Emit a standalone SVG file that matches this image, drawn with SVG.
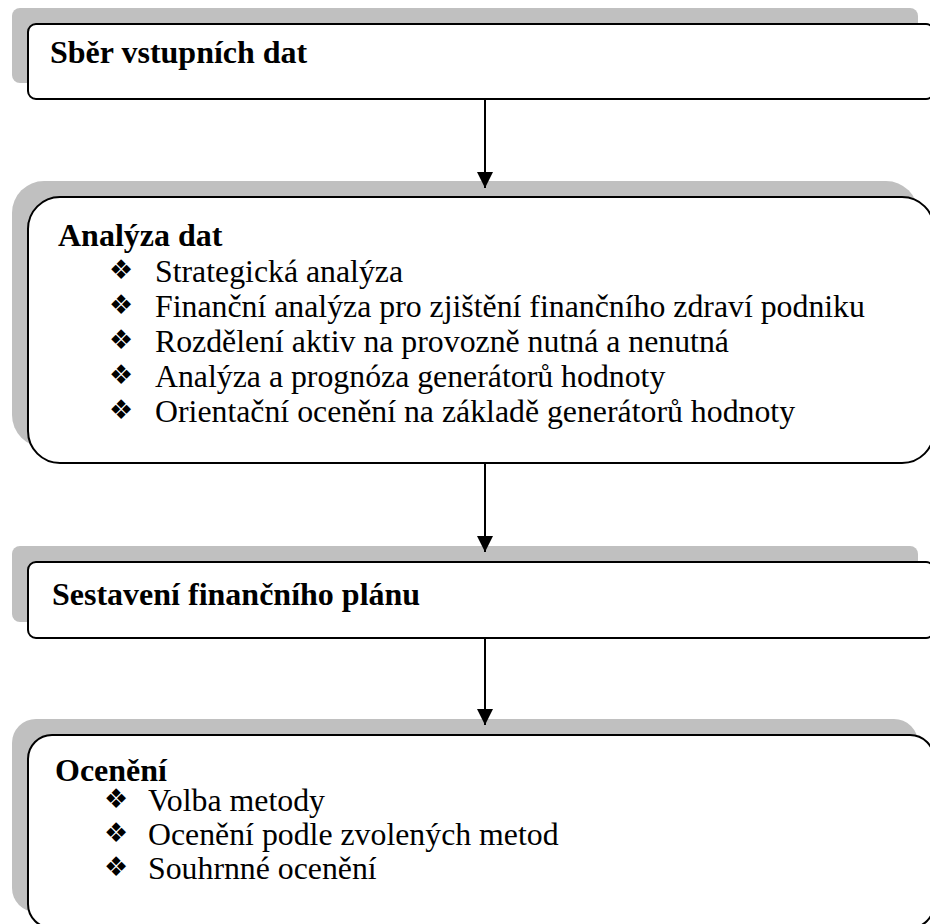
<svg xmlns="http://www.w3.org/2000/svg" width="930" height="924" viewBox="0 0 930 924">
<defs>
<style>
.shadow{fill:#c0c0c0;stroke:none}
.box{fill:#ffffff;stroke:#000000;stroke-width:2}
.title{font-family:"Liberation Serif","Times New Roman",serif;font-weight:bold;font-size:32px;fill:#000}
.item{font-family:"Liberation Serif","Times New Roman",serif;font-size:31.8px;fill:#000}
.bul{font-family:"DejaVu Sans",sans-serif;font-size:27px;fill:#000}
.conn{stroke:#000;stroke-width:2;fill:none}
</style>
<marker id="arr" viewBox="0 0 16 16" refX="16" refY="8" markerWidth="16" markerHeight="16" markerUnits="userSpaceOnUse" orient="auto">
<path d="M0,0 L16,8 L0,16 Z" fill="#000"/>
</marker>
</defs>
<rect width="930" height="924" fill="#ffffff"/>
<g id="node-sber">
<rect class="shadow" x="12" y="8" width="906" height="75" rx="8"/>
<rect class="box" x="28" y="24" width="906" height="75" rx="8"/>
<text class="title" x="50" y="63">Sběr vstupních dat</text>
</g>
<g id="node-analyza">
<rect class="shadow" x="12" y="181" width="906" height="266" rx="32"/>
<rect class="box" x="28" y="197" width="906" height="266" rx="32"/>
<text class="title" x="58" y="246">Analýza dat</text>
<text class="bul" x="109" y="279">❖</text><text class="item" x="155" y="282">Strategická analýza</text>
<text class="bul" x="109" y="314">❖</text><text class="item" x="155" y="317">Finanční analýza pro zjištění finančního zdraví podniku</text>
<text class="bul" x="109" y="349">❖</text><text class="item" x="155" y="352">Rozdělení aktiv na provozně nutná a nenutná</text>
<text class="bul" x="109" y="384">❖</text><text class="item" x="155" y="387">Analýza a prognóza generátorů hodnoty</text>
<text class="bul" x="109" y="419">❖</text><text class="item" x="155" y="422">Orientační ocenění na základě generátorů hodnoty</text>
</g>
<g id="node-plan">
<rect class="shadow" x="12" y="546" width="906" height="76" rx="8"/>
<rect class="box" x="28" y="562" width="906" height="76" rx="8"/>
<text class="title" x="52" y="605">Sestavení finančního plánu</text>
</g>
<g id="node-oceneni">
<rect class="shadow" x="12" y="719" width="906" height="193" rx="24"/>
<rect class="box" x="28" y="735" width="906" height="193" rx="24"/>
<text class="title" x="55" y="781">Ocenění</text>
<text class="bul" x="104" y="808">❖</text><text class="item" x="148" y="811">Volba metody</text>
<text class="bul" x="104" y="842">❖</text><text class="item" x="148" y="845">Ocenění podle zvolených metod</text>
<text class="bul" x="104" y="876">❖</text><text class="item" x="148" y="879">Souhrnné ocenění</text>
</g>
<g id="connectors">
<line class="conn" x1="485" y1="99" x2="485" y2="188" marker-end="url(#arr)"/>
<line class="conn" x1="485" y1="463" x2="485" y2="552" marker-end="url(#arr)"/>
<line class="conn" x1="485" y1="638" x2="485" y2="725" marker-end="url(#arr)"/>
</g>
</svg>
